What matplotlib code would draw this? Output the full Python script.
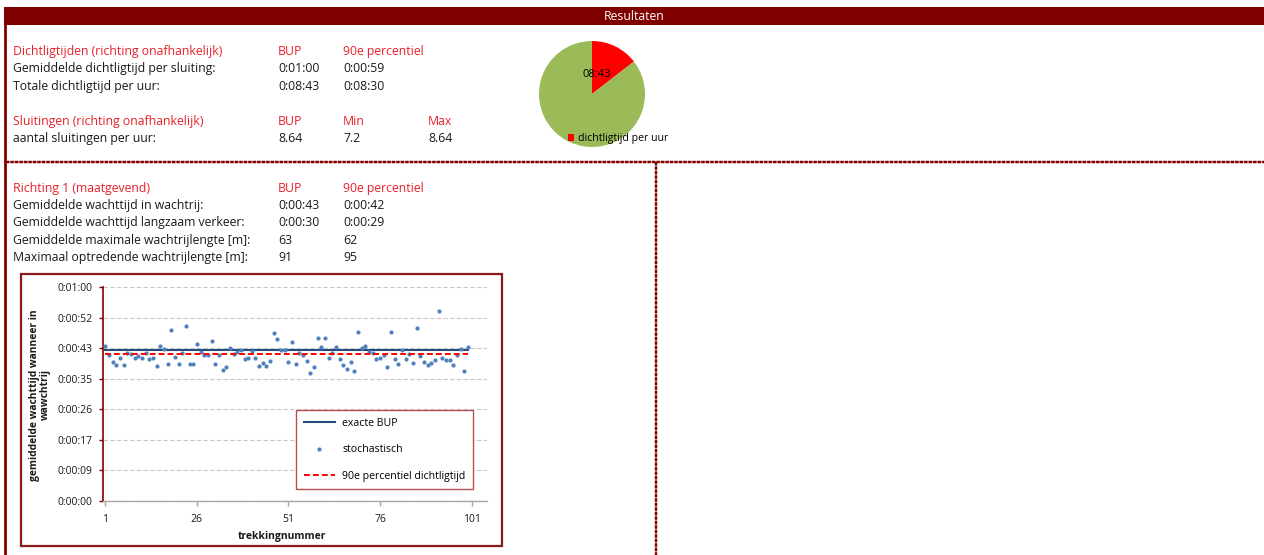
import matplotlib
matplotlib.use("Agg")
import matplotlib.pyplot as plt
from matplotlib.patches import Rectangle

plt.rcParams['font.family'] = ['Open Sans', 'DejaVu Sans']

W, H = 1264, 555
DONKERROOD = '#800000'
ROOD = '#E8202A'
TEKST = '#1a1a1a'

# Dichtligtijden / sluitingen
dicht_kop = ['Dichtligtijden (richting onafhankelijk)', 'BUP', '90e percentiel']
dicht_labels = ['Gemiddelde dichtligtijd per sluiting:', 'Totale dichtligtijd per uur:']
dicht_bup = ['0:01:00', '0:08:43']
dicht_p90 = ['0:00:59', '0:08:30']

sluit_kop = ['Sluitingen (richting onafhankelijk)', 'BUP', 'Min', 'Max']
sluit_label = 'aantal sluitingen per uur:'
sluit_waarden = ['8.64', '7.2', '8.64']

# Richting 1
richting_kop = ['Richting 1 (maatgevend)', 'BUP', '90e percentiel']
richting_labels = ['Gemiddelde wachttijd in wachtrij:',
                   'Gemiddelde wachttijd langzaam verkeer:',
                   'Gemiddelde maximale wachtrijlengte [m]:',
                   'Maximaal optredende wachtrijlengte [m]:']
richting_bup = ['0:00:43', '0:00:30', '63', '91']
richting_p90 = ['0:00:42', '0:00:29', '62', '95']

# taartdiagram: dichtligtijd per uur (seconden)
dicht_per_uur = 523
uur = 3600

# wachttijd per trekking (seconden)
trekking = list(range(1, 101))
wachttijd = [43.9, 41.4, 39.4, 38.5, 40.5, 38.5, 41.9, 41.7, 40.5, 40.9,
             40.5, 42.0, 40.2, 40.4, 38.2, 43.9, 43.0, 38.7, 48.3, 40.8,
             38.8, 41.9, 49.6, 38.9, 38.8, 44.5, 42.2, 41.3, 41.3, 45.4,
             38.9, 41.2, 37.1, 37.8, 43.2, 41.6, 42.2, 42.7, 40.1, 40.5,
             42.4, 40.4, 38.3, 39.0, 38.2, 39.7, 47.5, 45.8, 42.8, 42.6,
             39.2, 45.0, 38.9, 41.9, 41.4, 39.7, 36.1, 37.8, 46.2, 43.5,
             46.0, 40.5, 42.0, 43.7, 40.2, 38.4, 37.3, 39.3, 36.9, 47.8,
             43.2, 43.8, 42.2, 41.9, 40.3, 40.5, 41.2, 38.0, 47.7, 40.2,
             38.8, 42.6, 40.1, 41.5, 39.1, 49.0, 40.9, 39.4, 38.4, 39.1,
             39.8, 53.9, 40.5, 40.0, 40.0, 38.5, 41.3, 43.0, 36.9, 43.5]
exacte_bup = 42.7
p90_dichtligtijd = 41.6
y_stap = 8.64  # 0.0001 dag
x_ticks = [1, 26, 51, 76, 101]


def hms(sec):
    s = int(round(sec))
    return f"{s // 3600}:{(s % 3600) // 60:02d}:{s % 60:02d}"


fig = plt.figure(figsize=(W / 100, H / 100), dpi=100)

# achtergrondlaag in pixelcoordinaten
bg = fig.add_axes([0, 0, 1, 1])
bg.set_xlim(0, W)
bg.set_ylim(H, 0)
bg.axis('off')

# kopbalk
bg.add_patch(Rectangle((4, 7), W - 4, 18, facecolor=DONKERROOD, edgecolor='none'))
bg.text(634, 16.5, 'Resultaten', color='white', fontsize=8.8, ha='center', va='center')
bg.plot([5, 5], [25, H], color=DONKERROOD, lw=2)

# gestippelde scheidingslijnen
for xs, ys in [([6, W], [161.5, 161.5]), ([656, 656], [161.5, H])]:
    bg.plot(xs, ys, color='#D9A3A3', lw=1.7, solid_capstyle='butt')
    bg.plot(xs, ys, color=DONKERROOD, lw=1.7, dashes=(1.4, 0.5), dash_capstyle='butt')

fs = 8.8
x_kol = [13, 278, 343, 428]

# blok dichtligtijden
for x, t in zip(x_kol, dicht_kop):
    bg.text(x, 55, t, color=ROOD, fontsize=fs, va='baseline')
for i, lab in enumerate(dicht_labels):
    y = 72.3 + i * 17.3
    bg.text(x_kol[0], y, lab, color=TEKST, fontsize=fs, va='baseline')
    bg.text(x_kol[1], y, dicht_bup[i], color=TEKST, fontsize=fs, va='baseline')
    bg.text(x_kol[2], y, dicht_p90[i], color=TEKST, fontsize=fs, va='baseline')

for x, t in zip(x_kol, sluit_kop):
    bg.text(x, 125, t, color=ROOD, fontsize=fs, va='baseline')
bg.text(x_kol[0], 142, sluit_label, color=TEKST, fontsize=fs, va='baseline')
for x, t in zip(x_kol[1:], sluit_waarden):
    bg.text(x, 142, t, color=TEKST, fontsize=fs, va='baseline')

# blok richting 1
for x, t in zip(x_kol, richting_kop):
    bg.text(x, 191.7, t, color=ROOD, fontsize=fs, va='baseline')
for i, lab in enumerate(richting_labels):
    y = 209 + i * 17.4
    bg.text(x_kol[0], y, lab, color=TEKST, fontsize=fs, va='baseline')
    bg.text(x_kol[1], y, richting_bup[i], color=TEKST, fontsize=fs, va='baseline')
    bg.text(x_kol[2], y, richting_p90[i], color=TEKST, fontsize=fs, va='baseline')

# kader om de grafiek
bg.add_patch(Rectangle((21, 273.5), 481, 272.5, facecolor='none',
                       edgecolor='#8B1A1A', lw=1.6))

# y-as titel
bg.text(40, 395, 'gemiddelde wachttijd wanneer in\nwawchtrij', rotation=90,
        fontsize=7.4, fontweight='bold', color=TEKST, ha='center', va='center',
        multialignment='center', linespacing=1.1)

# taartdiagram
ax_pie = fig.add_axes([539 / W, 1 - 147 / H, 106 / W, 106 / H])
wedges, _ = ax_pie.pie([dicht_per_uur, uur - dicht_per_uur], colors=['#FF0000', '#9BBB59'],
                       startangle=90, counterclock=False, radius=1)
ax_pie.set_xlim(-1, 1)
ax_pie.set_ylim(-1, 1)
ax_pie.text(597, 74.5, f"{dicht_per_uur // 60:02d}:{dicht_per_uur % 60:02d}",
            transform=bg.transData, fontsize=8, color='black', ha='center', va='center')
ax_pie.legend([wedges[0]], ['dichtligtijd per uur'], loc='center left',
              bbox_to_anchor=(568 / W, 1 - 139 / H), bbox_transform=fig.transFigure,
              frameon=False, fontsize=7.6, handlelength=0.6, handleheight=0.6,
              handletextpad=0.3, borderpad=0, borderaxespad=0)

# spreidingsdiagram wachttijd
ax = fig.add_axes([103.3 / W, 54 / H, 383.7 / W, 213.7 / H])
ax.set_facecolor('none')
ax.set_xlim(0.45, 105.2)
ax.set_ylim(0, 7 * y_stap)
yt = [y_stap * i for i in range(8)]
ax.set_yticks(yt)
ax.set_yticklabels([hms(v) for v in yt])
ax.set_xticks(x_ticks)
ax.grid(axis='y', color='#C8C8C8', lw=0.8, linestyle=(0, (4, 2)))
ax.set_axisbelow(True)

l_bup, = ax.plot([trekking[0], trekking[-1]], [exacte_bup, exacte_bup],
                 color='#254A7C', lw=1.5, zorder=2)
sc = ax.scatter(trekking, wachttijd, s=9, color='#4F81BD', linewidths=0, zorder=3)
l_p90, = ax.plot([trekking[0], trekking[-1]], [p90_dichtligtijd, p90_dichtligtijd],
                 color='#FF0000', lw=1.4, dashes=(3, 1.6), zorder=4)

for s in ['top', 'right']:
    ax.spines[s].set_visible(False)
ax.spines['left'].set_color(DONKERROOD)
ax.spines['left'].set_linewidth(1.2)
ax.spines['bottom'].set_color('#A6A6A6')
ax.spines['bottom'].set_linewidth(1)
ax.tick_params(axis='y', colors=DONKERROOD, length=3, width=1, pad=5,
               labelsize=7.5, labelcolor=TEKST)
ax.tick_params(axis='x', colors='#A6A6A6', length=3.5, width=1, pad=6,
               labelsize=7.5, labelcolor=TEKST)

ax.set_xlabel('trekkingnummer', fontsize=7.5, fontweight='bold', color=TEKST)
ax.xaxis.set_label_coords((282 - 103.3) / 383.7, (501 - 536.7) / 213.7)
ax.xaxis.label.set_va('center')

ax.legend([l_bup, sc, l_p90], ['exacte BUP', 'stochastisch', '90e percentiel dichtligtijd'],
          loc='upper left', bbox_to_anchor=(295.7 / W, 1 - 410 / H),
          bbox_transform=fig.transFigure, borderaxespad=0, fancybox=False,
          edgecolor='#B5514F', framealpha=1, fontsize=7.6, handlelength=3.0,
          handletextpad=0.65, labelspacing=1.45, borderpad=0.75, scatterpoints=1)
ax.get_legend().get_frame().set_linewidth(1)

fig.savefig('out.png', dpi=100)
